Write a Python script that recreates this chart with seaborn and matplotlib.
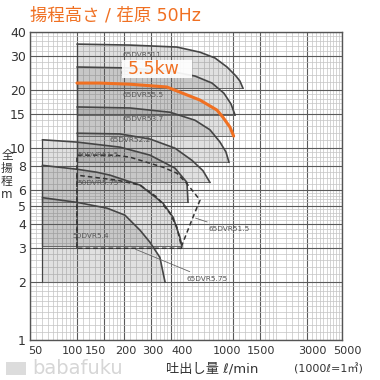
import numpy as np
import matplotlib
matplotlib.use("Agg")
import matplotlib.pyplot as plt
import matplotlib.transforms as mtransforms
from matplotlib.ticker import NullFormatter
from matplotlib.patches import Rectangle
import seaborn as sns

# ---- data: flow (l/min) vs total head (m) ----
q_65_11 = [100, 219, 437, 615, 767, 916, 1046, 1109, 1159]
h_65_11 = [34.6, 34.2, 33.4, 31.4, 29.3, 26.3, 23.6, 22.2, 20.4]
q_65_75 = [100, 219, 395, 571, 734, 876, 971, 1031]
h_65_75 = [26.3, 26.0, 25.0, 23.6, 21.7, 19.2, 16.9, 14.8]
q_65_55 = [100, 140, 219, 377, 615, 790, 863, 957, 1010]
h_65_55 = [21.7, 21.7, 21.4, 20.7, 17.7, 15.7, 14.4, 12.8, 11.5]
q_65_37 = [100, 219, 395, 571, 712, 826, 902, 943]
h_65_37 = [16.3, 16.1, 15.3, 13.9, 12.4, 10.7, 9.5, 8.4]
q_65_22 = [100, 189, 294, 425, 546, 642, 712]
h_65_22 = [11.9, 11.8, 11.1, 9.95, 8.6, 7.6, 6.6]
q_50_15 = [60, 100, 189, 294, 425, 507, 515]
h_50_15 = [11.0, 10.7, 10.07, 9.15, 7.83, 6.6, 5.2]
q_50_075 = [60, 100, 134, 163, 254, 356, 413, 457, 470]
h_50_075 = [8.1, 7.73, 7.46, 7.2, 6.39, 5.15, 4.35, 3.42, 3.1]
q_50_04 = [60, 100, 156, 203, 254, 294, 340, 367]
h_50_04 = [5.5, 5.2, 4.85, 4.46, 3.72, 3.22, 2.69, 2.0]

# dashed outlines
q_d_15 = [470, 100, 100, 175, 219, 356, 437, 507, 615, 554, 470]
h_d_15 = [3.0, 3.0, 9.15, 9.15, 8.93, 7.92, 7.37, 6.5, 5.34, 4.35, 3.1]
q_d_075 = [100, 100, 181, 254, 326, 395, 437, 470]
h_d_075 = [3.0, 7.2, 6.78, 6.39, 5.53, 4.56, 3.86, 3.0]

solid = [
    ("65DVR511", q_65_11, h_65_11),
    ("65DVR57.5", q_65_75, h_65_75),
    ("65DVR55.5", q_65_55, h_65_55),
    ("65DVR53.7", q_65_37, h_65_37),
    ("65DVR52.2", q_65_22, h_65_22),
    ("50DVR51.5", q_50_15, h_50_15),
    ("50DVR5.75", q_50_075, h_50_075),
    ("50DVR5.4", q_50_04, h_50_04),
]
highlight = "65DVR55.5"

x_ticks = [50, 100, 150, 200, 300, 400, 1000, 1500, 3000, 5000]
y_ticks = [1, 2, 3, 4, 5, 6, 8, 10, 15, 20, 30, 40]

title = "揚程高さ / 荏原 50Hz"
kw_label = "5.5kw"

# ---- style ----
sns.set_style("white")
plt.rcParams["font.family"] = ["DejaVu Sans", "Noto Sans CJK JP"]
ORANGE = "#f07022"
DARK = "#454545"

fig = plt.figure(figsize=(3.8, 3.8), dpi=100)
fig.patch.set_facecolor("white")
ax = fig.add_axes([30 / 380, 40 / 380, 312 / 380, 308 / 380])
ax.set_xscale("log")
ax.set_yscale("log")
ax.set_xlim(50, 5000)
ax.set_ylim(1, 40)

# grid
xminor = np.concatenate([np.arange(55, 100, 5), np.arange(110, 200, 10),
                         np.arange(220, 500, 20), np.arange(550, 1000, 50),
                         np.arange(1100, 2000, 100), np.arange(2200, 5000, 200)])
yminor = np.concatenate([np.arange(1.1, 2, 0.1), np.arange(2.2, 6, 0.2),
                         np.arange(6.5, 10, 0.5), np.arange(11, 20, 1),
                         np.arange(22, 40, 2)])
ax.set_xticks(x_ticks, labels=[str(v) for v in x_ticks])
ax.set_yticks(y_ticks, labels=[str(v) for v in y_ticks])
ax.set_xticks(xminor, minor=True)
ax.set_yticks(yminor, minor=True)
ax.xaxis.set_minor_formatter(NullFormatter())
ax.yaxis.set_minor_formatter(NullFormatter())
ax.grid(True, which="minor", color="#c4c4c4", lw=0.5, zorder=0)
ax.grid(True, which="major", color="#5a5a5a", lw=0.8, zorder=0)
ax.set_axisbelow(True)
ax.tick_params(which="both", length=0, labelcolor="#333333")
ax.tick_params(axis="x", pad=4, labelsize=8.1)
ax.tick_params(axis="y", pad=3, labelsize=9)
for s in ax.spines.values():
    s.set_color("#555555")
    s.set_linewidth(1.0)

# nudge crowded x tick labels sideways (pixels), as in the reference
x_nudge = [5, -5, -9, 2, 1, 11, -6, 1, 5, 5]
for lbl, dx in zip(ax.get_xticklabels(), x_nudge):
    lbl.set_transform(lbl.get_transform() +
                      mtransforms.ScaledTranslation(dx / 100, 0, fig.dpi_scale_trans))

# shaded regions and curves
for name, q, h in solid:
    ax.fill_between(q, h, h[-1], color="#5e5e5e", alpha=0.19, lw=0, zorder=1)
    ax.plot([q[0], q[-1]], [h[-1], h[-1]], color="#666666", lw=0.7, zorder=2)
    ax.plot([q[0], q[0]], [h[-1], h[0]], color=DARK, lw=0.9, zorder=2)
    if name == highlight:
        continue
    sns.lineplot(x=q, y=h, ax=ax, color=DARK, lw=1.2, sort=False,
                 estimator=None, zorder=2)

for q, h in [(q_d_15, h_d_15), (q_d_075, h_d_075)]:
    sns.lineplot(x=q, y=h, ax=ax, color="#333333", lw=1.1, sort=False,
                 estimator=None, zorder=2, linestyle=(0, (3, 2)))

sns.lineplot(x=q_65_55, y=h_65_55, ax=ax, color=ORANGE, lw=2.2, sort=False,
             estimator=None, zorder=4)

# curve labels (axes fraction)
lab_kw = dict(transform=ax.transAxes, fontsize=5.3, color="#555555",
              va="center", ha="left", zorder=3)
labels = [
    ("65DVR511", 0.298, 0.925), ("65DVR57.5", 0.290, 0.867),
    ("65DVR55.5", 0.298, 0.795), ("65DVR53.7", 0.298, 0.718),
    ("65DVR52.2", 0.256, 0.649), ("50DVR51.5", 0.151, 0.600),
    ("50DVR5.75", 0.151, 0.510), ("50DVR5.4", 0.135, 0.338),
]
for t, x, y in labels:
    ax.text(x, y, t, **lab_kw)

ax.annotate("65DVR51.5", xy=(554, 4.35), xytext=(0.571, 0.360),
            textcoords="axes fraction", fontsize=5.3, color="#555555",
            va="center", ha="left",
            arrowprops=dict(arrowstyle="-", color="#666666", lw=0.6))
ax.annotate("65DVR5.75", xy=(229, 3.0), xytext=(0.503, 0.198),
            textcoords="axes fraction", fontsize=5.3, color="#555555",
            va="center", ha="left",
            arrowprops=dict(arrowstyle="-", color="#666666", lw=0.6))

# 5.5kw box
ax.add_patch(Rectangle((0.295, 0.851), 0.224, 0.058, transform=ax.transAxes,
                       facecolor="white", edgecolor="none", alpha=0.92, zorder=5))
ax.text(0.314, 0.880, kw_label, transform=ax.transAxes, fontsize=12.5,
        color=ORANGE, va="center", ha="left", zorder=6)

# figure texts
fig.text(30 / 380, 1 - 16 / 380, title, fontsize=12.5, color=ORANGE,
         va="center", ha="left")
fig.text(7 / 380, 1 - 175 / 380, "全\n揚\n程\nm", fontsize=8.5, color="#333333",
         va="center", ha="center", linespacing=1.0)
fig.text(212 / 380, 11 / 380, "吐出し量 ℓ/min", fontsize=9.5, color="#333333",
         va="center", ha="center")
fig.text(328 / 380, 11 / 380, "(1000ℓ=1㎥)", fontsize=8, color="#333333",
         va="center", ha="center")
fig.text(32 / 380, 11 / 380, "babafuku", fontsize=14, color="#d6d6d6",
         va="center", ha="left")
fig.patches.append(Rectangle((6 / 380, 5 / 380), 20 / 380, 13 / 380,
                             transform=fig.transFigure, facecolor="#dcdcdc",
                             edgecolor="none"))

fig.savefig("out.png", dpi=100, facecolor="white")
